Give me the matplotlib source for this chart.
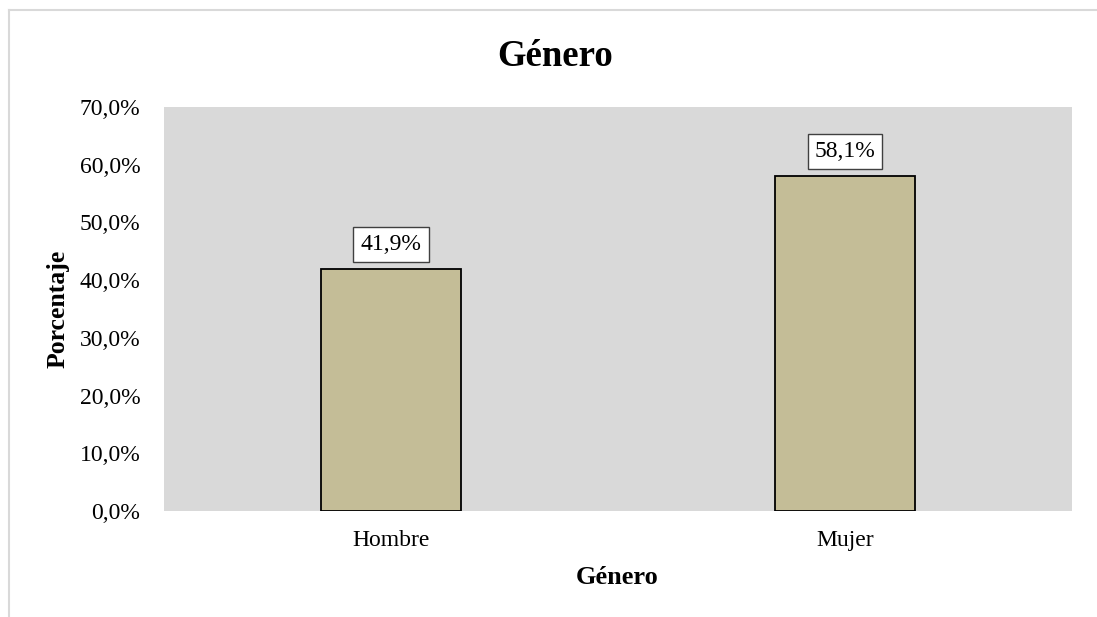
import matplotlib
matplotlib.use("Agg")
import matplotlib.pyplot as plt
from matplotlib.lines import Line2D

categories = ["Hombre", "Mujer"]
values = [41.9, 58.1]
yticks = [0, 10, 20, 30, 40, 50, 60, 70]

plt.rcParams['font.family'] = ['Liberation Serif', 'DejaVu Serif']

W, H = 1097, 617
fig = plt.figure(figsize=(W / 100, H / 100), dpi=100)
ax = fig.add_axes([164 / W, 1 - 511 / H, (1072 - 164) / W, (511 - 107) / H])
ax.set_facecolor('#d9d9d9')

x = list(range(len(categories)))
ax.bar(x, values, width=0.31, color='#c4bd97', edgecolor='black', linewidth=1.3, zorder=3)
ax.set_xlim(-0.5, len(categories) - 0.5)
ax.set_ylim(0, 70)
ax.set_yticks(yticks)
ax.set_yticklabels([f"{t:.1f}".replace('.', ',') + "%" for t in yticks], fontsize=17)
ax.set_xticks(x)
ax.set_xticklabels(categories, fontsize=17)
ax.tick_params(axis='y', length=0, pad=17)
ax.tick_params(axis='x', length=0, pad=14)
for s in ax.spines.values():
    s.set_visible(False)

for xi, v in zip(x, values):
    ax.annotate(f"{v:.1f}".replace('.', ',') + "%", xy=(xi, v), xytext=(0, 10),
                textcoords='offset points', ha='center', va='bottom', fontsize=17,
                bbox=dict(boxstyle='square,pad=0.3', fc='white', ec='#404040', lw=1), zorder=5)

fig.text(58 / W, 1 - 309 / H, "Porcentaje", rotation=90, ha='center', va='center',
         fontsize=18.5, fontweight='bold')
fig.text(617 / W, 1 - 577 / H, "Género", ha='center', va='center', fontsize=19, fontweight='bold')
fig.text(555 / W, 1 - 56 / H, "Género", ha='center', va='center', fontsize=26.5, fontweight='bold')

fig.add_artist(Line2D([9 / W, 9 / W], [0, 1 - 10 / H], color='#d9d9d9', lw=1.5, transform=fig.transFigure))
fig.add_artist(Line2D([9 / W, 1], [1 - 10 / H, 1 - 10 / H], color='#d9d9d9', lw=1.5, transform=fig.transFigure))

fig.savefig("out.png", dpi=100)
